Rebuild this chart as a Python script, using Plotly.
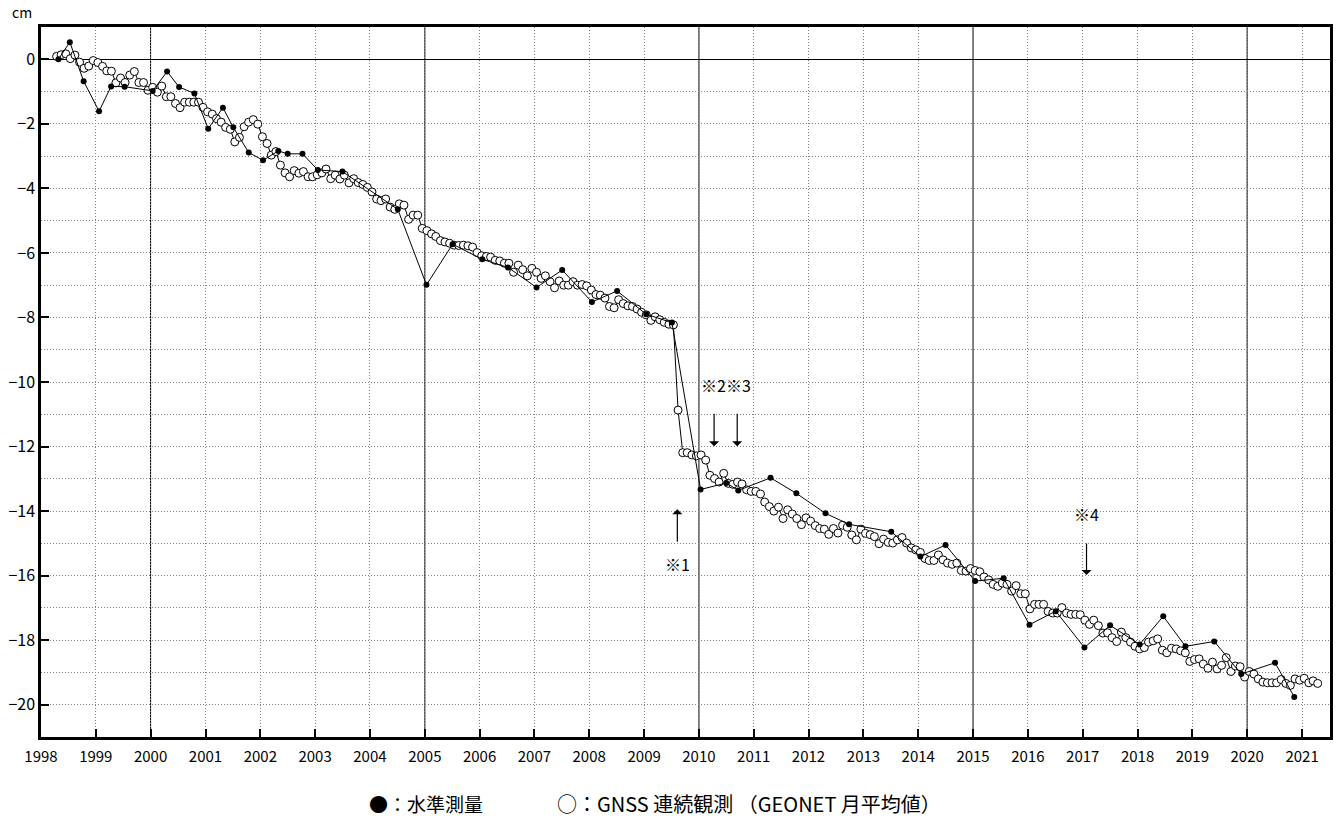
import pandas as pd
import plotly.graph_objects as go

# 水準測量 (levelling survey) dates and heights [cm]
level_dates = [
    "1998-04-27", "1998-07-12", "1998-10-12", "1999-01-23", "1999-04-13", "1999-07-12",
    "2000-01-15", "2000-04-20", "2000-07-09", "2000-10-19", "2001-01-19", "2001-04-27",
    "2001-07-05", "2001-10-16", "2002-01-19", "2002-05-01", "2002-07-02", "2002-10-09",
    "2003-01-19", "2003-07-02", "2004-07-05", "2005-01-12", "2005-07-05", "2006-01-19",
    "2006-07-09", "2007-01-15", "2007-07-05", "2008-01-19", "2008-07-05", "2009-01-15",
    "2009-07-05", "2010-01-12", "2010-07-02", "2010-09-20", "2011-04-23", "2011-10-12",
    "2012-04-23", "2012-09-27", "2013-07-05", "2014-01-15", "2014-07-02", "2015-01-15",
    "2015-07-24", "2016-01-12", "2016-07-05", "2017-01-12", "2017-07-02", "2018-01-15",
    "2018-06-21", "2018-11-16", "2019-05-27", "2019-11-23", "2020-07-05", "2020-11-10",
]
level_cm = [
    0.00, 0.53, -0.68, -1.61, -0.84, -0.85,
    -0.98, -0.38, -0.86, -1.06, -2.15, -1.50,
    -2.11, -2.89, -3.13, -2.84, -2.93, -2.93,
    -3.43, -3.48, -4.65, -6.99, -5.73, -6.20,
    -6.45, -7.07, -6.53, -7.52, -7.18, -7.90,
    -8.16, -13.33, -13.13, -13.36, -12.97, -13.45,
    -14.07, -14.41, -14.64, -15.41, -15.05, -16.17,
    -16.08, -17.52, -17.10, -18.23, -17.54, -18.13,
    -17.26, -18.19, -18.04, -19.05, -18.70, -19.76,
]

# GNSS 連続観測 (GEONET monthly means) from April 1998 [cm]
gnss_start = "1998-04-01"
gnss_cm = [
    0.09, 0.14, 0.17, 0.02, 0.13, -0.09, -0.28, -0.21, -0.04, -0.10, -0.22, -0.36,
    -0.37, -0.73, -0.58, -0.72, -0.49, -0.38, -0.72, -0.72, -0.96, -0.87, -1.02, -0.83,
    -1.16, -1.16, -1.37, -1.50, -1.33, -1.33, -1.33, -1.33, -1.49, -1.63, -1.70, -1.84,
    -1.95, -2.11, -2.17, -2.56, -2.42, -2.09, -1.95, -1.87, -2.01, -2.40, -2.61, -2.97,
    -2.86, -3.28, -3.52, -3.64, -3.45, -3.53, -3.48, -3.64, -3.64, -3.58, -3.52, -3.40,
    -3.70, -3.59, -3.71, -3.59, -3.83, -3.70, -3.82, -3.88, -3.97, -4.11, -4.33, -4.38,
    -4.33, -4.58, -4.65, -4.48, -4.52, -4.96, -4.83, -4.83, -5.24, -5.31, -5.41, -5.49,
    -5.62, -5.66, -5.70, -5.76, -5.77, -5.76, -5.78, -5.82, -5.99, -6.09, -6.11, -6.13,
    -6.23, -6.25, -6.32, -6.32, -6.60, -6.38, -6.52, -6.71, -6.48, -6.60, -6.79, -6.71,
    -6.89, -7.08, -6.87, -7.00, -7.00, -6.89, -7.00, -6.98, -7.02, -7.15, -7.29, -7.31,
    -7.40, -7.66, -7.70, -7.45, -7.57, -7.64, -7.66, -7.74, -7.84, -7.92, -8.09, -7.98,
    -8.07, -8.15, -8.21, -8.23, -10.87, -12.19, -12.19, -12.26, -12.29, -12.26, -12.42, -12.89,
    -12.99, -13.10, -12.83, -13.14, -13.17, -13.10, -13.16, -13.34, -13.39, -13.39, -13.47, -13.72,
    -13.86, -14.00, -13.88, -14.23, -13.96, -14.09, -14.23, -14.42, -14.21, -14.31, -14.45, -14.54,
    -14.56, -14.72, -14.54, -14.68, -14.44, -14.50, -14.74, -14.89, -14.56, -14.69, -14.73, -14.79,
    -15.01, -14.87, -14.97, -14.99, -14.89, -14.82, -14.99, -15.14, -15.20, -15.28, -15.47, -15.53,
    -15.53, -15.36, -15.51, -15.61, -15.65, -15.61, -15.84, -15.86, -15.78, -15.84, -15.88, -16.04,
    -16.13, -16.27, -16.33, -16.23, -16.27, -16.48, -16.31, -16.56, -16.56, -17.03, -16.89, -16.89,
    -16.89, -17.11, -17.16, -17.16, -16.99, -17.16, -17.20, -17.20, -17.21, -17.38, -17.51, -17.38,
    -17.55, -17.78, -17.77, -17.92, -18.04, -17.75, -17.92, -18.06, -18.19, -18.27, -18.23, -18.06,
    -18.02, -17.96, -18.31, -18.39, -18.25, -18.27, -18.33, -18.39, -18.66, -18.60, -18.58, -18.74,
    -18.87, -18.68, -18.89, -18.78, -18.54, -18.97, -18.80, -18.82, -19.14, -18.97, -19.05, -19.20,
    -19.30, -19.32, -19.32, -19.32, -19.22, -19.34, -19.40, -19.20, -19.24, -19.18, -19.32, -19.26,
    -19.34,
]
# monthly means are plotted at mid-month
gnss_dates = pd.date_range(gnss_start, periods=len(gnss_cm), freq="MS") + pd.Timedelta(days=14)

# event notes: (label, arrow date, arrow head y, tail offset px, label y)
notes = [
    ("※1", "2009-08-10", -13.94, 34, -15.64),
    ("", "2010-04-12", -11.99, -34, None),
    ("", "2010-09-13", -11.99, -34, None),
    ("※4", "2017-01-26", -15.98, -33, -14.10),
]
note23_text, note23_date, note23_y = "※2※3", "2010-07-02", -10.08

major_years = ["2000", "2005", "2010", "2015", "2020"]

# key text pieces: (text, left edge as fraction of plot width, font size)
key_parts = [
    ("●：水準測量", 0.2531, 19),
    ("○：GNSS 連続観測 （GEONET 月平均値）", 0.3986, 20),
]

FONT = "Noto Sans CJK JP"
GRID = "#808080"
DOT = "1px,2px"

fig = go.Figure()

fig.add_trace(go.Scatter(
    x=gnss_dates, y=gnss_cm, mode="lines+markers",
    line=dict(color="black", width=1),
    marker=dict(symbol="circle", size=8, color="white", line=dict(color="black", width=1)),
    showlegend=False,
))
fig.add_trace(go.Scatter(
    x=level_dates, y=level_cm, mode="lines+markers",
    line=dict(color="black", width=1),
    marker=dict(symbol="circle", size=6, color="black"),
    showlegend=False,
))

for yr in major_years:
    fig.add_shape(type="line", xref="x", yref="paper", x0=f"{yr}-01-01", x1=f"{yr}-01-01",
                  y0=0, y1=1, line=dict(color="black", width=1), layer="below")

for label, d, yh, off, ylab in notes:
    fig.add_annotation(x=d, y=yh, text="", showarrow=True, ax=0, ay=off,
                       arrowhead=1, arrowsize=1.4, arrowwidth=1.2, arrowcolor="black")
    if label:
        fig.add_annotation(x=d, y=ylab, text=label, showarrow=False,
                           font=dict(family=FONT, size=16, color="black"))
fig.add_annotation(x=note23_date, y=note23_y, text=note23_text, showarrow=False,
                   font=dict(family=FONT, size=16, color="black"))

fig.add_annotation(xref="paper", yref="paper", x=0, y=1.0, xshift=-19, yshift=15,
                   xanchor="center", yanchor="middle", text="cm", showarrow=False,
                   font=dict(family=FONT, size=14, color="black"))
for txt, xp, fs in key_parts:
    fig.add_annotation(xref="paper", yref="paper", x=xp, y=0, yshift=-66,
                       xanchor="left", yanchor="middle", text=txt, showarrow=False,
                       font=dict(family=FONT, size=fs, color="black"))

fig.update_xaxes(
    type="date", range=["1998-01-01", "2021-07-06"],
    tick0="1998-01-01", dtick="M12", tickformat="%Y",
    ticks="inside", ticklen=8, tickwidth=2, tickcolor="black",
    showgrid=True, gridcolor=GRID, griddash=DOT, gridwidth=1,
    showline=True, linecolor="black", linewidth=2.5, mirror=True,
    ticklabelstandoff=4,
    tickfont=dict(family=FONT, size=15, color="black"),
)
fig.update_yaxes(
    range=[-21, 1], tick0=0, dtick=2,
    ticks="inside", ticklen=8, tickwidth=2, tickcolor="black",
    showgrid=True, gridcolor=GRID, griddash=DOT, gridwidth=1,
    minor=dict(dtick=1, showgrid=True, gridcolor=GRID, griddash=DOT, gridwidth=1),
    zeroline=True, zerolinecolor="black", zerolinewidth=1,
    showline=True, linecolor="black", linewidth=2.5, mirror=True,
    tickfont=dict(family=FONT, size=16, color="black"),
)

fig.update_layout(
    width=1338, height=821,
    margin=dict(l=41, r=5, t=27, b=84),
    paper_bgcolor="white", plot_bgcolor="white",
    font=dict(family=FONT, color="black"),
)

fig.write_html("out.html")
